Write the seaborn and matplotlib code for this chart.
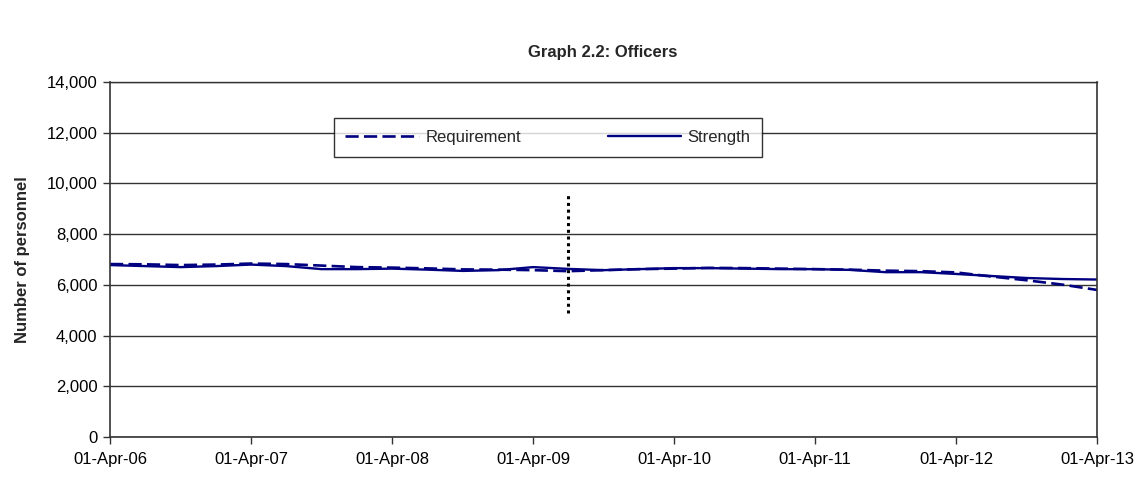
import matplotlib
matplotlib.use("Agg")
import matplotlib.pyplot as plt
import matplotlib.dates as mdates
from matplotlib.ticker import FuncFormatter, MultipleLocator
import seaborn as sns
import pandas as pd

# ---- data (quarterly) ----
dates = pd.date_range("2006-04-01", "2013-04-01", freq="3MS")
requirement = [6820, 6810, 6780, 6800, 6840, 6820, 6760, 6700, 6680, 6650,
               6610, 6600, 6580, 6540, 6580, 6620, 6640, 6670, 6660, 6640,
               6620, 6600, 6560, 6540, 6490, 6330, 6180, 6010, 5800]
strength = [6780, 6740, 6700, 6740, 6800, 6740, 6620, 6620, 6640, 6600,
            6550, 6580, 6700, 6630, 6580, 6620, 6660, 6660, 6640, 6620,
            6620, 6590, 6500, 6500, 6430, 6350, 6270, 6230, 6210]
marker_date = pd.Timestamp("2009-07-01")
marker_range = [4900, 9600]
title = "Graph 2.2: Officers"
ylabel = "Number of personnel"

sns.set_theme(style="white")
plt.rcParams["font.family"] = ["Liberation Sans", "DejaVu Sans"]

df_req = pd.DataFrame({"date": dates, "value": requirement})
df_str = pd.DataFrame({"date": dates, "value": strength})

fig = plt.figure(figsize=(11.45, 4.79), dpi=100)
ax = fig.add_axes([110 / 1145, 1 - 437 / 479, 987 / 1145, 355 / 479])

navy = "#000080"
sns.lineplot(data=df_req, x="date", y="value", ax=ax, color=navy,
             linewidth=1.9, label="Requirement")
ax.lines[-1].set_dashes((5, 2))
sns.lineplot(data=df_str, x="date", y="value", ax=ax, color=navy,
             linewidth=1.7, label="Strength")

ax.plot([marker_date, marker_date], marker_range, color="black",
        linestyle=(0, (1, 1.2)), linewidth=2.2)

ax.set_ylim(0, 14000)
ax.set_xlim(dates[0], dates[-1])
ax.yaxis.set_major_locator(MultipleLocator(2000))
ax.yaxis.set_major_formatter(FuncFormatter(lambda v, p: f"{int(v):,}"))
ax.xaxis.set_major_locator(mdates.YearLocator(month=4, day=1))
ax.xaxis.set_major_formatter(mdates.DateFormatter("%d-%b-%y"))

ax.grid(axis="y", color="#333333", linewidth=1.0)
ax.set_axisbelow(True)
for side in ["left", "bottom", "right"]:
    ax.spines[side].set_visible(True)
    ax.spines[side].set_color("#333333")
    ax.spines[side].set_linewidth(1.2)
ax.spines["top"].set_visible(True)
ax.spines["top"].set_color("#333333")
ax.spines["top"].set_linewidth(1.0)

ax.tick_params(axis="both", which="major", direction="out", length=5,
               width=1, color="#333333", labelsize=12, labelcolor="black",
               bottom=True, left=True)
ax.tick_params(axis="x", pad=6)
ax.tick_params(axis="y", pad=4)

ax.set_xlabel("")
ax.set_ylabel(ylabel, fontsize=12, fontweight="bold", labelpad=12)
fig.text(603 / 1145, 1 - 52 / 479, title, ha="center", va="center",
         fontsize=12, fontweight="bold")

leg = ax.legend(loc="center", bbox_to_anchor=(0.4438, 0.8437), ncol=2,
                frameon=True, fancybox=False, handlelength=4.4,
                fontsize=12, borderpad=0.7, columnspacing=5.2,
                handletextpad=0.4)
leg.get_frame().set_edgecolor("black")
leg.get_frame().set_linewidth(1.0)

fig.savefig("out.png", dpi=100)
